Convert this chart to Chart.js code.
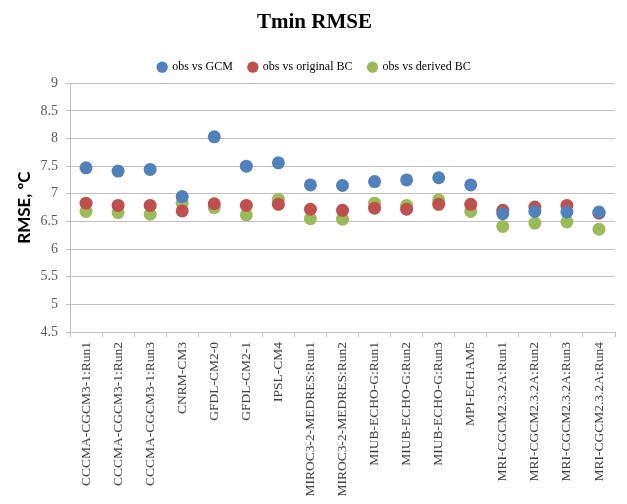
<!DOCTYPE html>
<html>
<head>
<meta charset="utf-8">
<script src="https://cdn.jsdelivr.net/npm/chart.js@4/dist/chart.umd.min.js"></script>
<style>
  html, body { margin: 0; padding: 0; background: #fff; }
  #wrap { width: 627px; height: 504px; position: relative; }
</style>
</head>
<body>
<div id="wrap"><canvas id="rmseChart" width="627" height="504"></canvas></div>
<script>
// Categories (GCM runs)
const models = [
  'CCCMA-CGCM3-1:Run1', 'CCCMA-CGCM3-1:Run2', 'CCCMA-CGCM3-1:Run3',
  'CNRM-CM3', 'GFDL-CM2-0', 'GFDL-CM2-1', 'IPSL-CM4',
  'MIROC3-2-MEDRES:Run1', 'MIROC3-2-MEDRES:Run2',
  'MIUB-ECHO-G:Run1', 'MIUB-ECHO-G:Run2', 'MIUB-ECHO-G:Run3',
  'MPI-ECHAM5',
  'MRI-CGCM2.3.2A:Run1', 'MRI-CGCM2.3.2A:Run2', 'MRI-CGCM2.3.2A:Run3', 'MRI-CGCM2.3.2A:Run4'
];

// RMSE values
const obsVsGcm = [7.47, 7.41, 7.44, 6.95, 8.03, 7.50, 7.56, 7.16, 7.15, 7.22, 7.25, 7.29, 7.16, 6.64, 6.68, 6.67, 6.67];
const obsVsOriginalBC = [6.83, 6.79, 6.79, 6.69, 6.82, 6.79, 6.81, 6.72, 6.70, 6.74, 6.72, 6.81, 6.81, 6.70, 6.76, 6.79, 6.65];
const obsVsDerivedBC = [6.68, 6.66, 6.63, 6.83, 6.75, 6.62, 6.90, 6.55, 6.54, 6.83, 6.79, 6.89, 6.68, 6.41, 6.47, 6.49, 6.36];

// Y axis ticks
const yTicks = [4.5, 5, 5.5, 6, 6.5, 7, 7.5, 8, 8.5, 9];

const serif = '"Liberation Serif", "DejaVu Serif", serif';

function dots(label, data, color) {
  return {
    label: label,
    data: data,
    showLine: false,
    pointStyle: 'circle',
    pointRadius: 6.5,
    pointHoverRadius: 6.5,
    pointBorderWidth: 0,
    backgroundColor: color,
    borderColor: color
  };
}

function initChart() {
  new Chart(document.getElementById('rmseChart'), {
    type: 'line',
    data: {
      labels: models,
      datasets: [
        dots('obs vs GCM', obsVsGcm, '#4F81BD'),
        dots('obs vs original BC', obsVsOriginalBC, '#C0504D'),
        dots('obs vs derived BC', obsVsDerivedBC, '#9BBB59')
      ]
    },
    options: {
      responsive: false,
      animation: false,
      layout: { padding: { left: 14, right: 12, top: 8, bottom: 3 } },
      plugins: {
        title: {
          display: true,
          text: 'Tmin RMSE',
          color: '#000',
          font: { family: serif, size: 21, weight: 'bold' },
          padding: { top: 2, bottom: 10 }
        },
        legend: {
          display: true,
          labels: {
            usePointStyle: true,
            pointStyle: 'circle',
            boxWidth: 8,
            boxHeight: 8,
            padding: 16,
            color: '#000',
            font: { family: serif, size: 12 }
          }
        },
        tooltip: { enabled: false }
      },
      scales: {
        x: {
          offset: true,
          grid: {
            display: true,
            offset: true,
            drawOnChartArea: false,
            drawTicks: true,
            tickLength: 5,
            color: '#BFBFBF'
          },
          border: { display: true, color: '#BFBFBF' },
          ticks: {
            autoSkip: false,
            maxRotation: 90,
            minRotation: 90,
            color: '#404040',
            padding: 5,
            font: { family: serif, size: 13.5 }
          },
          afterFit: s => { s.height = 169; }
        },
        y: {
          min: yTicks[0],
          max: yTicks[yTicks.length - 1],
          afterBuildTicks: s => { s.ticks = yTicks.map(v => ({ value: v })); },
          grid: { color: '#BFBFBF', tickLength: 4 },
          border: { display: true, color: '#BFBFBF' },
          ticks: {
            color: '#595959',
            padding: 8,
            font: { family: serif, size: 14 },
            callback: v => String(v)
          },
          title: {
            display: true,
            text: 'RMSE, ºC',
            color: '#000',
            font: { family: 'Lato, "Open Sans", sans-serif', size: 17, weight: 'bold' },
            padding: { top: 0, bottom: 2 }
          },
          afterFit: s => { s.width = 56; }
        }
      }
    }
  });
}

document.addEventListener('DOMContentLoaded', initChart);
</script>
</body>
</html>
